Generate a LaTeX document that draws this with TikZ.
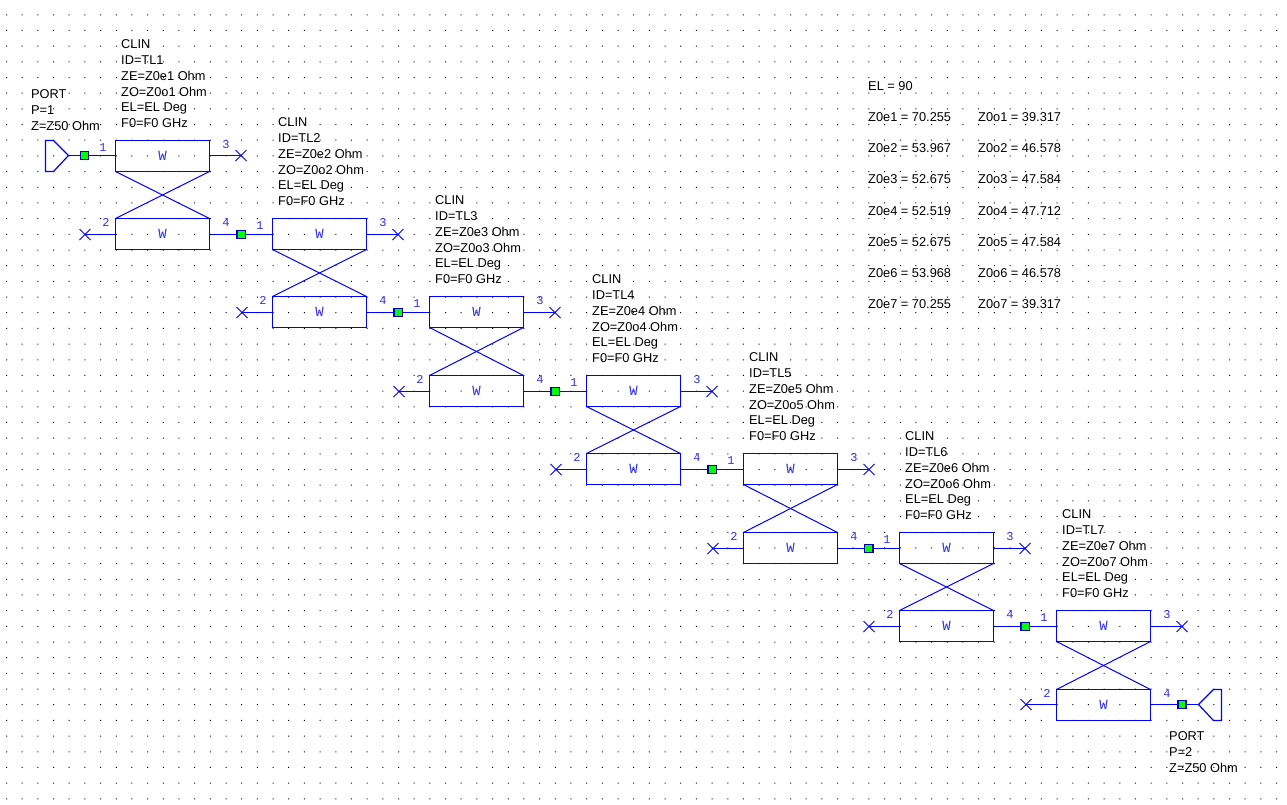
\documentclass[tikz,border=0pt]{standalone}
\usepackage{fontspec}
\setmainfont{Liberation Sans}
\newfontfamily\pinfont{Liberation Mono}
\usetikzlibrary{positioning,shapes.misc}
\definecolor{wire}{RGB}{0,0,255}
\definecolor{pinblue}{RGB}{50,50,240}
\definecolor{nodegreen}{RGB}{0,255,0}
\tikzset{
  wireline/.style={draw=wire,line width=1.2pt},
  section/.style={wireline,outer sep=0pt,minimum width=94pt,minimum height=31pt,inner sep=0pt,text=pinblue,font=\pinfont\fontsize{14}{14}\selectfont},
  opencross/.style={cross out,draw=wire,line width=1pt,outer sep=0pt,minimum size=11pt,inner sep=0pt},
  junction/.style={rectangle,draw=black!30!blue,line width=1.2pt,outer sep=0pt,fill=nodegreen,minimum size=8pt,inner sep=0pt},
  pinlabel/.style={text=pinblue,inner sep=0pt,font=\pinfont\fontsize{12}{12}\selectfont},
  param/.style={anchor=north west,align=left,inner sep=0pt,font=\fontsize{12.8}{15.8}\selectfont},
  value/.style={anchor=west,inner sep=0pt,font=\fontsize{12.8}{14}\selectfont}
}
\begin{document}
\begin{tikzpicture}[x=1pt,y=-1pt]
  \useasboundingbox (0,0) rectangle (1287,804);
  \fill[white] (0,0) rectangle (1287,804);
  \fill[black] \foreach \i in {0,...,81} {\foreach \j in {0,...,50} {
    (6+15.68*\i,14.3+15.68*\j) rectangle ++(1,1)}};
  % coupled sections
  \foreach \n/\x/\y/\r/\v/\s in {1/115.5/140.5/155.5/218.5/234.5,
                                 2/272.5/218.5/234.5/296.5/312.5,
                                 3/429.5/296.5/312.5/375.5/391.5,
                                 4/586.5/375.5/391.5/453.5/469.5,
                                 5/743.5/453.5/469.5/532.5/548.5,
                                 6/899.5/532.5/548.5/610.5/626.5,
                                 7/1056.5/610.5/626.5/689.5/704.5} {
    \node[section] (top\n) at (\x+47,\y+15.5) {W};
    \node[section] (bot\n) at (\x+47,\v+15.5) {W};
    \draw[wire,line width=1pt] (top\n.south west) -- (bot\n.north east);
    \draw[wire,line width=1pt] (top\n.south east) -- (bot\n.north west);
    \node[opencross] (open\n) at (\x+125.5,\r) {};
    \node[opencross] (free\n) at (\x-30.5,\s) {};
    \draw[wireline] (open\n.center) -- (open\n.center -| top\n.east);
    \draw[wireline] (free\n.center) -- (free\n.center -| bot\n.west);
    \node[junction] (in\n) at (\x-31,\r) {};
    \draw[wireline] (in\n) -- (in\n -| top\n.west);
    \node[junction] (out\n) at (\x+125.5,\s) {};
    \draw[wireline] (out\n) -- (out\n -| bot\n.east);
    \node[pinlabel] (pa\n) at (\x-12.5,\y+7.5) {1};
    \node[pinlabel] (pb\n) at (\x+110.5,\y+4.2) {3};
    \node[pinlabel] (pc\n) at (\x-9.5,\v+4.2) {2};
    \node[pinlabel] (pd\n) at (\x+110.5,\v+4.2) {4};
    \node[param] (clin\n) at (\x+5.5,\y-101) {CLIN\\ID=TL\n\\ZE=Z0e\n{} Ohm\\ZO=Z0o\n{} Ohm\\EL=EL Deg\\F0=F0 GHz};
  }
  \foreach \n [count=\m from 2] in {1,...,6} {
    \draw[wireline] (out\n) -- (in\m);
  }
  % ports
  \coordinate (tipa) at (68.5,155.5);
  \coordinate (tipb) at (1198.5,704.5);
  \draw[wireline] (tipa) -- (in1);
  \draw[wireline] (out7) -- (tipb);
  \draw[wireline] (tipa) -- ++(-15,-15) -- ++(-8,0) -- ++(0,31) -- ++(8,0) -- cycle;
  \draw[wireline] (tipb) -- ++(15,-15) -- ++(8,0) -- ++(0,31) -- ++(-8,0) -- cycle;
  \node[param] (porta) at (31,89.5) {PORT\\P=1\\Z=Z50 Ohm};
  \node[param] (portb) at (1169,731.5) {PORT\\P=2\\Z=Z50 Ohm};
  % values
  \node[value] (el) at (868,86) {EL = 90};
  \foreach \n/\e/\o [evaluate=\n as \y using {117+31.2*(\n-1)}] in
    {1/70.255/39.317,2/53.967/46.578,3/52.675/47.584,4/52.519/47.712,
     5/52.675/47.584,6/53.968/46.578,7/70.255/39.317} {
    \node[value] (ze\n) at (868,\y) {Z0e\n{} = \e};
    \node[value] (zo\n) at (978,\y) {Z0o\n{} = \o};
  }
\end{tikzpicture}
\end{document}
